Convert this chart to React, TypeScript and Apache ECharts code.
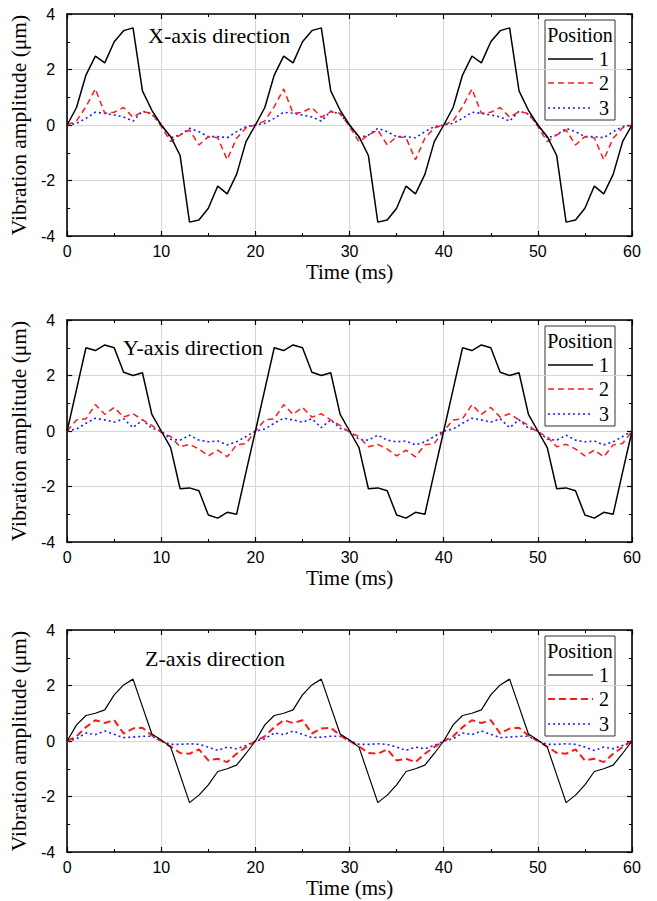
import React, { useEffect, useRef } from "react";
import * as echarts from "echarts";

const TIME_MS = [
  0, 1, 2, 3, 4, 5, 6, 7, 8, 9, 10, 11, 12, 13, 14, 15, 16, 17, 18, 19,
  20, 21, 22, 23, 24, 25, 26, 27, 28, 29, 30, 31, 32, 33, 34, 35, 36, 37, 38, 39,
  40, 41, 42, 43, 44, 45, 46, 47, 48, 49, 50, 51, 52, 53, 54, 55, 56, 57, 58, 59,
  60,
];

// X-axis direction
const X_POS1 = [
  0, 0.63, 1.8, 2.48, 2.24, 3.0, 3.4, 3.5, 1.23, 0.53, 0, -0.42, -1.1, -3.5, -3.42, -3.0, -2.2, -2.48, -1.78, -0.6,
  0, 0.63, 1.8, 2.48, 2.24, 3.0, 3.4, 3.5, 1.23, 0.53, 0, -0.42, -1.1, -3.5, -3.42, -3.0, -2.2, -2.48, -1.78, -0.6,
  0, 0.63, 1.8, 2.48, 2.24, 3.0, 3.4, 3.5, 1.23, 0.53, 0, -0.42, -1.1, -3.5, -3.42, -3.0, -2.2, -2.48, -1.78, -0.6,
  0,
];
const X_POS2 = [
  0, 0.15, 0.66, 1.3, 0.42, 0.46, 0.63, 0.28, 0.48, 0.42, -0.05, -0.6, -0.36, -0.18, -0.72, -0.42, -0.46, -1.25, -0.48, -0.1,
  0, 0.15, 0.66, 1.3, 0.42, 0.46, 0.63, 0.28, 0.48, 0.42, -0.05, -0.6, -0.36, -0.18, -0.72, -0.42, -0.46, -1.25, -0.48, -0.1,
  0, 0.15, 0.66, 1.3, 0.42, 0.46, 0.63, 0.28, 0.48, 0.42, -0.05, -0.6, -0.36, -0.18, -0.72, -0.42, -0.46, -1.25, -0.48, -0.1,
  0,
];
const X_POS3 = [
  0, 0.06, 0.24, 0.46, 0.42, 0.36, 0.29, 0.14, 0.5, 0.39, 0, -0.46, -0.36, -0.12, -0.24, -0.42, -0.42, -0.46, -0.24, -0.06,
  0, 0.06, 0.24, 0.46, 0.42, 0.36, 0.29, 0.14, 0.5, 0.39, 0, -0.46, -0.36, -0.12, -0.24, -0.42, -0.42, -0.46, -0.24, -0.06,
  0, 0.06, 0.24, 0.46, 0.42, 0.36, 0.29, 0.14, 0.5, 0.39, 0, -0.46, -0.36, -0.12, -0.24, -0.42, -0.42, -0.46, -0.24, -0.06,
  0,
];

// Y-axis direction
const Y_POS1 = [
  0, 1.5, 3.0, 2.9, 3.1, 3.0, 2.12, 2.0, 2.1, 0.6, 0, -0.6, -2.08, -2.05, -2.15, -3.03, -3.14, -2.93, -3.0, -1.48,
  0, 1.5, 3.0, 2.9, 3.1, 3.0, 2.12, 2.0, 2.1, 0.6, 0, -0.6, -2.08, -2.05, -2.15, -3.03, -3.14, -2.93, -3.0, -1.48,
  0, 1.5, 3.0, 2.9, 3.1, 3.0, 2.12, 2.0, 2.1, 0.6, 0, -0.6, -2.08, -2.05, -2.15, -3.03, -3.14, -2.93, -3.0, -1.48,
  0,
];
const Y_POS2 = [
  0, 0.4, 0.44, 0.95, 0.6, 0.85, 0.5, 0.62, 0.4, 0.2, -0.05, -0.2, -0.57, -0.48, -0.65, -0.9, -0.69, -0.93, -0.5, -0.45,
  0, 0.4, 0.44, 0.95, 0.6, 0.85, 0.5, 0.62, 0.4, 0.2, -0.05, -0.2, -0.57, -0.48, -0.65, -0.9, -0.69, -0.93, -0.5, -0.45,
  0, 0.4, 0.44, 0.95, 0.6, 0.85, 0.5, 0.62, 0.4, 0.2, -0.05, -0.2, -0.57, -0.48, -0.65, -0.9, -0.69, -0.93, -0.5, -0.45,
  0,
];
const Y_POS3 = [
  0, 0.07, 0.28, 0.46, 0.4, 0.32, 0.44, 0.12, 0.4, 0.1, 0, -0.3, -0.33, -0.15, -0.33, -0.39, -0.36, -0.5, -0.39, -0.2,
  0, 0.07, 0.28, 0.46, 0.4, 0.32, 0.44, 0.12, 0.4, 0.1, 0, -0.3, -0.33, -0.15, -0.33, -0.39, -0.36, -0.5, -0.39, -0.2,
  0, 0.07, 0.28, 0.46, 0.4, 0.32, 0.44, 0.12, 0.4, 0.1, 0, -0.3, -0.33, -0.15, -0.33, -0.39, -0.36, -0.5, -0.39, -0.2,
  0,
];

// Z-axis direction
const Z_POS1 = [
  0, 0.58, 0.92, 1.0, 1.12, 1.66, 2.02, 2.23, 1.24, 0.25, 0.04, -0.22, -1.22, -2.22, -1.95, -1.58, -1.1, -1.0, -0.87, -0.45,
  0, 0.58, 0.92, 1.0, 1.12, 1.66, 2.02, 2.23, 1.24, 0.25, 0.04, -0.22, -1.22, -2.22, -1.95, -1.58, -1.1, -1.0, -0.87, -0.45,
  0, 0.58, 0.92, 1.0, 1.12, 1.66, 2.02, 2.23, 1.24, 0.25, 0.04, -0.22, -1.22, -2.22, -1.95, -1.58, -1.1, -1.0, -0.87, -0.45,
  0,
];
const Z_POS2 = [
  0, 0.17, 0.5, 0.75, 0.65, 0.75, 0.27, 0.45, 0.48, 0.2, 0, -0.2, -0.43, -0.46, -0.3, -0.7, -0.64, -0.76, -0.46, -0.22,
  0, 0.17, 0.5, 0.75, 0.65, 0.75, 0.27, 0.45, 0.48, 0.2, 0, -0.2, -0.43, -0.46, -0.3, -0.7, -0.64, -0.76, -0.46, -0.22,
  0, 0.17, 0.5, 0.75, 0.65, 0.75, 0.27, 0.45, 0.48, 0.2, 0, -0.2, -0.43, -0.46, -0.3, -0.7, -0.64, -0.76, -0.46, -0.22,
  0,
];
const Z_POS3 = [
  0, 0.08, 0.29, 0.23, 0.36, 0.24, 0.12, 0.14, 0.17, 0.17, 0, -0.12, -0.12, -0.1, -0.12, -0.22, -0.34, -0.22, -0.28, -0.16,
  0, 0.08, 0.29, 0.23, 0.36, 0.24, 0.12, 0.14, 0.17, 0.17, 0, -0.12, -0.12, -0.1, -0.12, -0.22, -0.34, -0.22, -0.28, -0.16,
  0, 0.08, 0.29, 0.23, 0.36, 0.24, 0.12, 0.14, 0.17, 0.17, 0, -0.12, -0.12, -0.1, -0.12, -0.22, -0.34, -0.22, -0.28, -0.16,
  0,
];

const PANEL_TITLES = ["X-axis direction", "Y-axis direction", "Z-axis direction"];
const POSITION_NAMES = ["1", "2", "3"];
const LEGEND_TITLE = "Position";
const X_AXIS_TITLE = "Time (ms)";
const Y_AXIS_TITLE = "Vibration amplitude (\u03bcm)";
const X_MIN = 0;
const X_MAX = 60;
const X_STEP = 10;
const Y_MIN = -4;
const Y_MAX = 4;
const Y_STEP = 2;

const PANEL_DATA = [
  [X_POS1, X_POS2, X_POS3],
  [Y_POS1, Y_POS2, Y_POS3],
  [Z_POS1, Z_POS2, Z_POS3],
];

const SERIF = "Liberation Serif";
const SANS = "Liberation Sans";

export default function App() {
  const ref = useRef<HTMLDivElement>(null);

  useEffect(() => {
    if (!ref.current) return;
    const chart = echarts.init(ref.current, null, { renderer: "svg" });

    const tops = [14, 320, 630];
    const gridLeft = 66;
    const gridWidth = 566;
    const gridHeight = 222;

    const lineStyles = [
      [
        { color: "#000000", width: 1.5, type: "solid" },
        { color: "#ff1a1a", width: 1.5, type: [6, 4] },
        { color: "#1a1aff", width: 1.6, type: [2, 3] },
      ],
      [
        { color: "#000000", width: 1.5, type: "solid" },
        { color: "#ff1a1a", width: 1.5, type: [6, 4] },
        { color: "#1a1aff", width: 1.6, type: [2, 3] },
      ],
      [
        { color: "#000000", width: 1.2, type: "solid" },
        { color: "#ff1a1a", width: 2, type: [7, 4] },
        { color: "#1a1aff", width: 1.6, type: [2, 3] },
      ],
    ];

    const grids: any[] = [];
    const xAxes: any[] = [];
    const yAxes: any[] = [];
    const series: any[] = [];
    const graphics: any[] = [];

    const frameLine = { show: true, onZero: false, lineStyle: { color: "#000", width: 1.6 } };
    const tick = { show: true, inside: true, length: 5, lineStyle: { color: "#000", width: 1.2 } };
    const minor = { show: true, splitNumber: 2, length: 3, lineStyle: { color: "#000", width: 1 } };

    tops.forEach((top, i) => {
      grids.push({ left: gridLeft, top, width: gridWidth, height: gridHeight, containLabel: false });
      xAxes.push({
        gridIndex: i,
        type: "value",
        position: "bottom",
        min: X_MIN,
        max: X_MAX,
        interval: X_STEP,
        axisLine: frameLine,
        axisTick: tick,
        minorTick: minor,
        splitLine: { show: true, lineStyle: { color: "#d6d6d6", width: 1 } },
        axisLabel: { show: true, color: "#000", fontFamily: SANS, fontSize: 16, margin: 7 },
        name: X_AXIS_TITLE,
        nameLocation: "middle",
        nameGap: 25,
        nameTextStyle: { color: "#000", fontFamily: SERIF, fontSize: 21 },
      });
      xAxes.push({
        gridIndex: i,
        type: "value",
        position: "top",
        min: X_MIN,
        max: X_MAX,
        interval: X_STEP,
        axisLine: frameLine,
        axisTick: tick,
        minorTick: minor,
        splitLine: { show: false },
        axisLabel: { show: false },
      });
      yAxes.push({
        gridIndex: i,
        type: "value",
        position: "left",
        min: Y_MIN,
        max: Y_MAX,
        interval: Y_STEP,
        axisLine: frameLine,
        axisTick: tick,
        minorTick: minor,
        splitLine: { show: true, lineStyle: { color: "#d6d6d6", width: 1 } },
        axisLabel: { show: true, color: "#000", fontFamily: SANS, fontSize: 16, margin: 12 },
        name: Y_AXIS_TITLE,
        nameLocation: "middle",
        nameGap: 31,
        nameTextStyle: { color: "#000", fontFamily: SERIF, fontSize: 21.5 },
      });
      yAxes.push({
        gridIndex: i,
        type: "value",
        position: "right",
        min: Y_MIN,
        max: Y_MAX,
        interval: Y_STEP,
        axisLine: frameLine,
        axisTick: tick,
        minorTick: minor,
        splitLine: { show: false },
        axisLabel: { show: false },
      });

      PANEL_DATA[i].forEach((values, s) => {
        series.push({
          name: POSITION_NAMES[s],
          type: "line",
          xAxisIndex: i * 2,
          yAxisIndex: i * 2,
          data: TIME_MS.map((t, k) => [t, values[k]]),
          showSymbol: false,
          symbol: "none",
          lineStyle: lineStyles[i][s],
          z: 10 - s,
        });
      });

      const titleX = [148, 123, 145][i];
      const titleY = [top + 21, top + 27, top + 28][i];
      graphics.push({
        type: "text",
        x: titleX,
        y: titleY,
        z: 50,
        style: {
          text: PANEL_TITLES[i],
          fill: "#000",
          fontFamily: SERIF,
          fontSize: 22,
          textAlign: "left",
          textVerticalAlign: "middle",
          align: "left",
          verticalAlign: "middle",
        },
      });

      const lx = 545;
      const ly = top + 6;
      const rows = [39, 63, 88];
      const children: any[] = [
        {
          type: "rect",
          shape: { x: 0, y: 0, width: 70, height: 100 },
          style: { fill: "#fff", stroke: "#333", lineWidth: 1 },
        },
        {
          type: "text",
          x: 35,
          y: 15,
          style: {
            text: LEGEND_TITLE,
            fill: "#000",
            fontFamily: SERIF,
            fontSize: 20,
            textAlign: "center",
            textVerticalAlign: "middle",
            align: "center",
            verticalAlign: "middle",
          },
        },
      ];
      POSITION_NAMES.forEach((nm, s) => {
        const ls = lineStyles[i][s];
        children.push({
          type: "line",
          shape: { x1: 3, y1: rows[s], x2: 48, y2: rows[s] },
          style: {
            stroke: ls.color,
            lineWidth: ls.width,
            lineDash: Array.isArray(ls.type) ? ls.type : null,
          },
        });
        children.push({
          type: "text",
          x: 59,
          y: rows[s],
          style: {
            text: nm,
            fill: "#000",
            fontFamily: SERIF,
            fontSize: 20,
            textAlign: "center",
            textVerticalAlign: "middle",
            align: "center",
            verticalAlign: "middle",
          },
        });
      });
      graphics.push({ type: "group", x: lx, y: ly, z: 60, children });
    });

    chart.setOption({
      animation: false,
      backgroundColor: "#ffffff",
      grid: grids,
      xAxis: xAxes,
      yAxis: yAxes,
      series,
      graphic: graphics,
    });

    return () => chart.dispose();
  }, []);

  return (
    <div
      ref={ref}
      style={{ position: "fixed", left: 0, top: 0, width: 657, height: 901, background: "#fff" }}
    />
  );
}
